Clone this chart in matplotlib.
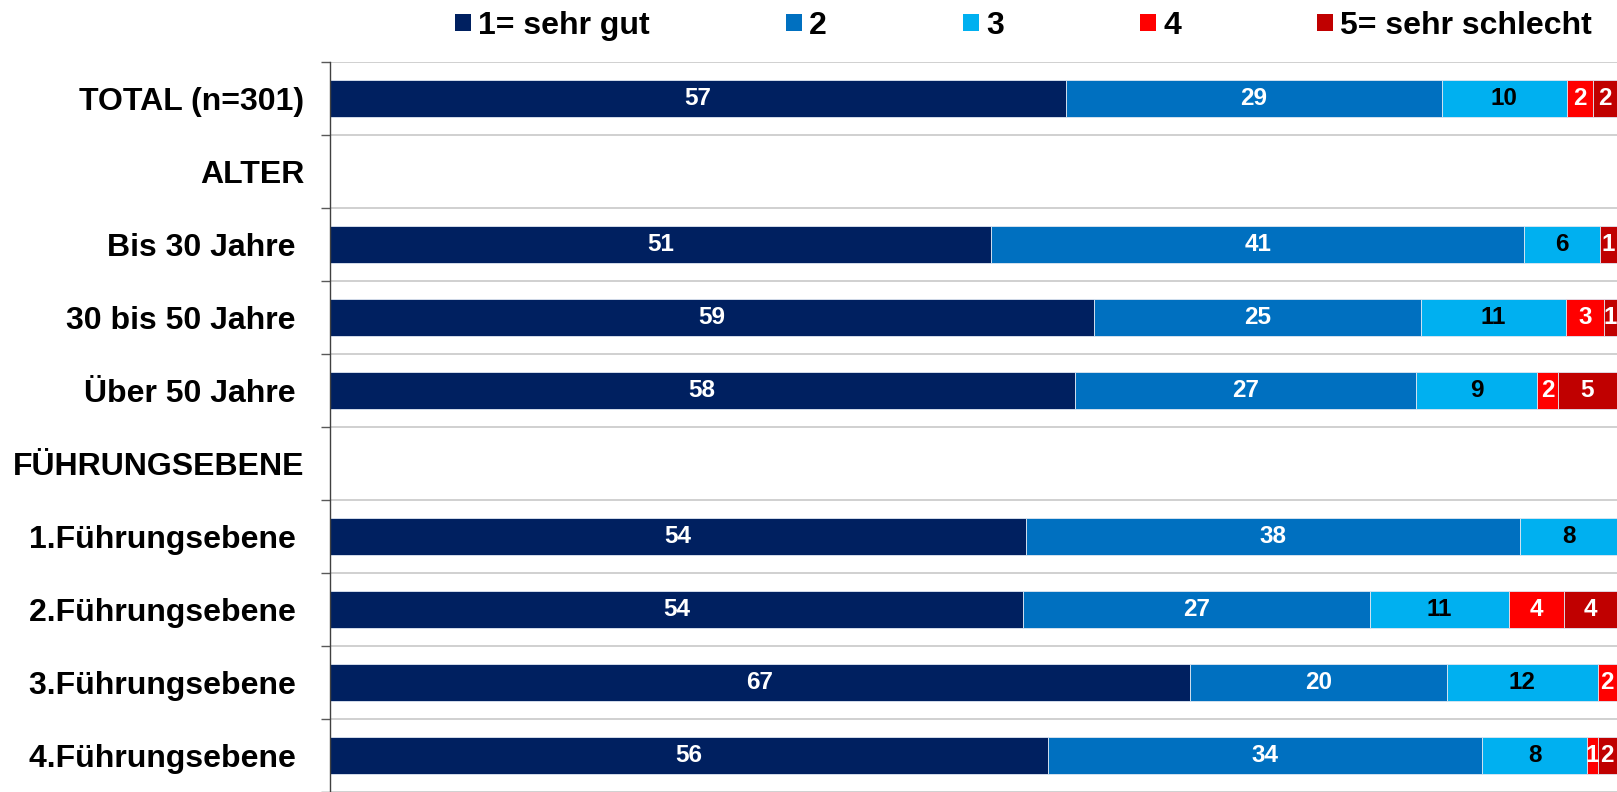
import numpy as np
import matplotlib
matplotlib.use("Agg")
import matplotlib.pyplot as plt

plt.rcParams['font.family'] = ['Liberation Sans', 'DejaVu Sans']

# categories (top to bottom), header rows have no bars
categories = ["TOTAL (n=301)", "ALTER", "Bis 30 Jahre ", "30 bis 50 Jahre ",
              "Über 50 Jahre ", "FÜHRUNGSEBENE", "1.Führungsebene ",
              "2.Führungsebene ", "3.Führungsebene ", "4.Führungsebene "]

series_names = ["1= sehr gut", "2", "3", "4", "5= sehr schlecht"]

# percentages
sehr_gut      = [57.2, 0, 51.4, 59.4, 57.9, 0, 54.1, 53.9, 66.8, 55.8]
note_2        = [29.2, 0, 41.4, 25.4, 26.5, 0, 38.4, 26.9, 20.0, 33.7]
note_3        = [9.7, 0, 5.9, 11.2, 9.4, 0, 7.5, 10.8, 11.7, 8.2]
note_4        = [2.0, 0, 0.0, 3.0, 1.6, 0, 0.0, 4.3, 1.5, 0.8]
sehr_schlecht = [1.9, 0, 1.3, 1.0, 4.6, 0, 0.0, 4.1, 0.0, 1.5]

colors = ["#002060", "#0070C0", "#00B0F0", "#FF0000", "#C00000"]
text_colors = ["white", "white", "black", "white", "white"]

series = [sehr_gut, note_2, note_3, note_4, sehr_schlecht]

fig = plt.figure(figsize=(16.17, 7.92), dpi=100)
ax = fig.add_axes([329.5 / 1617, 0.0, 1 - 329.5 / 1617, 1 - 62 / 792])

y = np.arange(len(categories))
left = np.zeros(len(categories))
for vals, name, col, tcol in zip(series, series_names, colors, text_colors):
    vals = np.array(vals, dtype=float)
    ax.barh(y, vals, left=left, height=0.5, color=col, label=name,
            edgecolor="#dfe7f2", linewidth=0.6)
    for yi, v, l in zip(y, vals, left):
        if v > 0:
            ax.text(l + v / 2, yi, str(int(v + 0.5)), ha="center", va="center",
                    color=tcol, fontsize=17.5, fontweight="bold")
    left += vals

ax.set_xlim(0, 100)
ax.set_ylim(-0.5 + 730 / 73.3, -0.5)

ax.set_yticks(y)
ax.set_yticklabels(categories, fontsize=23, fontweight="bold")
ax.tick_params(axis="y", which="major", length=0, pad=18)
ax.set_yticks(np.arange(-0.5, len(categories), 1.0), minor=True)
ax.tick_params(axis="y", which="minor", length=6.5, width=1, color="#595959",
               direction="out")
ax.grid(True, axis="y", which="minor", color="#c8c8c8", linewidth=1.2)
ax.set_axisbelow(True)
ax.set_xticks([])

for s in ["top", "right", "bottom"]:
    ax.spines[s].set_visible(False)
ax.spines["left"].set_color("#404040")
ax.spines["left"].set_linewidth(1)

leg = fig.legend(loc="center left", bbox_to_anchor=(455 / 1617, 1 - 26 / 792),
                 ncol=5, frameon=False, borderpad=0, borderaxespad=0,
                 handlelength=0.49, handleheight=0.47, handletextpad=0.22,
                 columnspacing=4.28, prop={"size": 23, "weight": "bold"})
for h in leg.legend_handles:
    h.set_edgecolor("none")

fig.savefig("out.png", dpi=100)
